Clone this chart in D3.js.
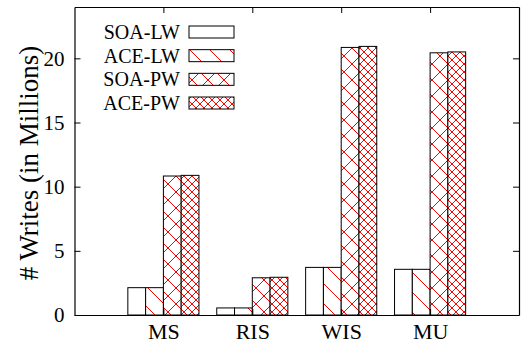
<!DOCTYPE html>
<html>
<head>
<meta charset="utf-8">
<script src="https://cdn.jsdelivr.net/npm/d3@7"></script>
<style>
  body { margin: 0; background: #fff; }
  svg { display: block; }
</style>
</head>
<body>
<div id="chart"></div>
<script>
// Writes per benchmark, millions
const categories = ['MS', 'RIS', 'WIS', 'MU']
const seriesNames = ['SOA-LW', 'ACE-LW', 'SOA-PW', 'ACE-PW']
const soaLW = [2.13, 0.55, 3.71, 3.56]
const aceLW = [2.13, 0.55, 3.71, 3.56]
const soaPW = [10.83, 2.90, 20.85, 20.43]
const acePW = [10.88, 2.94, 20.93, 20.50]
const yTicks = [0, 5, 10, 15, 20]

const seriesValues = [soaLW, aceLW, soaPW, acePW]
const fills = ['#fff', 'url(#pBack)', 'url(#pCross)', 'url(#pDense)']

const W = 524, H = 343
const plotL = 74.5, plotR = 519, plotT = 7, plotB = 315
const FONT = 'Liberation Serif, Times New Roman, serif'

const svg = d3.select('#chart').append('svg')
  .attr('width', W)
  .attr('height', H)

// fill patterns (gnuplot style)
const defs = svg.append('defs')
function hatch(id, p, dirs) {
  const pat = defs.append('pattern')
    .attr('id', id)
    .attr('patternUnits', 'userSpaceOnUse')
    .attr('width', p)
    .attr('height', p)
  pat.append('rect').attr('width', p).attr('height', p).attr('fill', '#fff')
  dirs.forEach(d => {
    const lines = d === '\\'
      ? [[-p, 0, p, 2 * p], [0, -p, 2 * p, p], [-1, -1, p + 1, p + 1]]
      : [[-p, p, p, -p], [0, 2 * p, 2 * p, 0], [-1, p + 1, p + 1, -1]]
    lines.forEach(l => {
      pat.append('line')
        .attr('x1', l[0]).attr('y1', l[1])
        .attr('x2', l[2]).attr('y2', l[3])
        .attr('stroke', '#ff0000')
        .attr('stroke-width', 1)
    })
  })
}
hatch('pBack', 20, ['\\'])
hatch('pCross', 16, ['\\', '/'])
hatch('pDense', 8, ['\\', '/'])

const x = d3.scaleLinear().domain([-1, 4]).range([plotL, plotR])
const y = d3.scaleLinear().domain([0, 24]).range([plotB, plotT])
const unit = x(1) - x(0)
const bw = unit * 0.2

// bars
seriesValues.forEach((vals, j) => {
  svg.append('g')
    .selectAll('rect')
    .data(vals)
    .join('rect')
    .attr('x', (d, i) => x(i) - 2 * bw + j * bw)
    .attr('y', d => y(d))
    .attr('width', bw)
    .attr('height', d => y(0) - y(d))
    .attr('fill', fills[j])
    .attr('stroke', '#000')
    .attr('stroke-width', 1)
})

// axes, ticks pointing inward
const catIdx = categories.map((c, i) => i)
const gL = svg.append('g').attr('transform', `translate(${plotL},0)`)
  .call(d3.axisLeft(y).tickValues(yTicks).tickSize(-6).tickSizeOuter(0).tickPadding(10))
const gR = svg.append('g').attr('transform', `translate(${plotR},0)`)
  .call(d3.axisRight(y).tickValues(yTicks).tickSize(-6).tickSizeOuter(0).tickFormat(''))
const gB = svg.append('g').attr('transform', `translate(0,${plotB})`)
  .call(d3.axisBottom(x).tickValues(catIdx).tickSize(-6).tickSizeOuter(0).tickPadding(8)
    .tickFormat(i => categories[i]))
const gT = svg.append('g').attr('transform', `translate(0,${plotT})`)
  .call(d3.axisTop(x).tickValues(catIdx).tickSize(-6).tickSizeOuter(0).tickFormat(''))

;[gL, gR, gB, gT].forEach(g => {
  g.selectAll('path.domain').attr('stroke', '#000').attr('stroke-width', 1.2)
  g.selectAll('.tick line').attr('stroke', '#000').attr('stroke-width', 1)
  g.selectAll('text').attr('fill', '#000').attr('font-family', FONT)
})
gL.selectAll('text').attr('font-size', 21)
gB.selectAll('text').attr('font-size', 22)

// y axis title
svg.append('text')
  .attr('transform', `translate(38,163) rotate(-90)`)
  .attr('text-anchor', 'middle')
  .attr('font-family', FONT)
  .attr('font-size', 27)
  .text('# Writes (in Millions)')

// legend
const legend = svg.append('g')
const rowY = d3.scaleLinear().domain([0, 3]).range([32, 103])
seriesNames.forEach((name, j) => {
  legend.append('text')
    .attr('x', 180)
    .attr('y', rowY(j) + 7)
    .attr('text-anchor', 'end')
    .attr('font-family', FONT)
    .attr('font-size', 20)
    .text(name)
  legend.append('rect')
    .attr('x', 189)
    .attr('y', rowY(j) - 6)
    .attr('width', 45)
    .attr('height', 12)
    .attr('fill', fills[j])
    .attr('stroke', '#000')
    .attr('stroke-width', 1)
})
</script>
</body>
</html>
